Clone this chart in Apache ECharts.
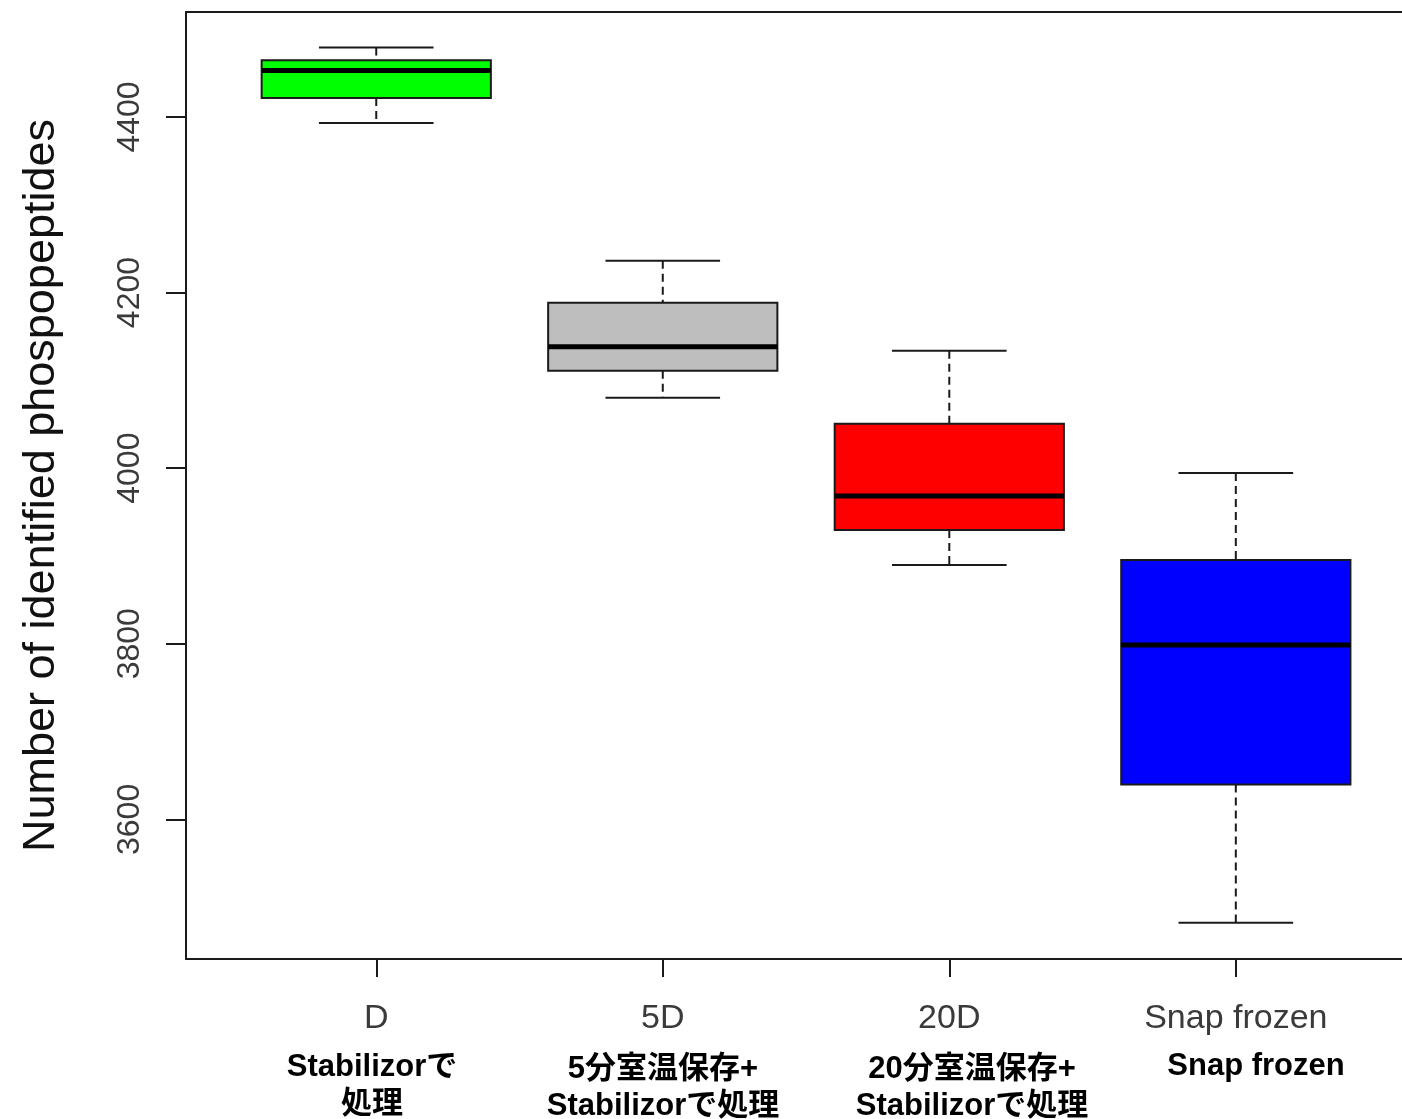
<!DOCTYPE html>
<html>
<head>
<meta charset="utf-8">
<script src="https://cdn.jsdelivr.net/npm/echarts@6/dist/echarts.min.js"></script>
<style>
html,body{margin:0;padding:0;background:#fff;}
#chart{width:1402px;height:1119px;}
</style>
</head>
<body>
<div id="chart"></div>
<script>
// ---- data ----
const categories = ['D', '5D', '20D', 'Snap frozen'];
const whiskerLow  = [4393.2, 4080.1, 3889.8, 3482.3];
const q1          = [4421.7, 4110.9, 3929.7, 3639.6];
const median      = [4452.8, 4138.2, 3968.4, 3798.5];
const q3          = [4464.5, 4188.4, 4050.5, 3895.4];
const whiskerHigh = [4479.0, 4236.2, 4133.7, 3994.6];
const boxColors   = ['#00FF00', '#BEBEBE', '#FF0000', '#0000FF'];
const yTicks      = [3600, 3800, 4000, 4200, 4400];
const yTitle      = 'Number of identified phospopeptides';
const groupNotes  = [
  'Stabilizorで\n処理',
  '5分室温保存+\nStabilizorで処理',
  '20分室温保存+\nStabilizorで処理',
  'Snap frozen'
];

// ---- axis ranges (plot region is cut off on the right in the original) ----
const xMin = 0.336, xMax = 4.58;
const yMin = 3441, yMax = 4519.5;
const boxHalf = 0.4, stapleHalf = 0.2;

const seriesData = categories.map((c, i) => [i + 1, whiskerLow[i], q1[i], median[i], q3[i], whiskerHigh[i], i]);

const lineColor = '#1a1a1a';

function renderItem(params, api) {
  const x = api.value(0);
  const lo = api.value(1), a = api.value(2), m = api.value(3), b = api.value(4), hi = api.value(5);
  const idx = api.value(6);
  const pLo = api.coord([x, lo]);
  const pA = api.coord([x, a]);
  const pB = api.coord([x, b]);
  const pHi = api.coord([x, hi]);
  const left = api.coord([x - boxHalf, m])[0];
  const right = api.coord([x + boxHalf, m])[0];
  const sL = api.coord([x - stapleHalf, m])[0];
  const sR = api.coord([x + stapleHalf, m])[0];
  const pM = api.coord([x, m]);
  const dash = { stroke: lineColor, lineWidth: 2, lineDash: [8, 5] };
  const solid = { stroke: lineColor, lineWidth: 2 };
  return {
    type: 'group',
    children: [
      { type: 'line', shape: { x1: pHi[0], y1: pHi[1], x2: pB[0], y2: pB[1] }, style: dash },
      { type: 'line', shape: { x1: pA[0], y1: pA[1], x2: pLo[0], y2: pLo[1] }, style: dash },
      { type: 'line', shape: { x1: sL, y1: pHi[1], x2: sR, y2: pHi[1] }, style: solid },
      { type: 'line', shape: { x1: sL, y1: pLo[1], x2: sR, y2: pLo[1] }, style: solid },
      { type: 'rect', shape: { x: left, y: pB[1], width: right - left, height: pA[1] - pB[1] },
        style: { fill: boxColors[idx], stroke: lineColor, lineWidth: 2 } },
      { type: 'line', shape: { x1: left, y1: pM[1], x2: right, y2: pM[1] }, style: { stroke: '#000', lineWidth: 5 } }
    ]
  };
}

const noteX = [372, 663, 972, 1256];
const noteY = [1086, 1088, 1088, 1066];
const latin = "'Liberation Sans', Arial, sans-serif";

const chart = echarts.init(document.getElementById('chart'), null, { renderer: 'canvas' });
chart.setOption({
  backgroundColor: '#ffffff',
  animation: false,
  grid: { left: 186, top: 12, right: 0, height: 947, show: false },
  xAxis: [{
    type: 'value', min: xMin, max: xMax, position: 'bottom',
    axisLine: { show: true, onZero: false, lineStyle: { color: lineColor, width: 2 } },
    axisTick: { show: true, inside: false, length: 18, customValues: [1, 2, 3, 4], lineStyle: { color: lineColor, width: 2 } },
    axisLabel: {
      show: true, customValues: [1, 2, 3, 4], margin: 43,
      formatter: v => categories[Math.round(v) - 1],
      fontFamily: latin, fontSize: 34, color: '#3a3a3a'
    },
    splitLine: { show: false }
  }, {
    type: 'value', min: xMin, max: xMax, position: 'top',
    axisLine: { show: true, onZero: false, lineStyle: { color: lineColor, width: 2 } },
    axisTick: { show: false }, axisLabel: { show: false }, splitLine: { show: false }
  }],
  yAxis: {
    type: 'value', min: yMin, max: yMax,
    name: yTitle, nameLocation: 'middle', nameRotate: 90, nameGap: 122,
    nameTextStyle: { fontFamily: latin, fontSize: 45, color: '#111' },
    axisLine: { show: true, lineStyle: { color: lineColor, width: 2 } },
    axisTick: { show: true, inside: false, length: 20, customValues: yTicks, lineStyle: { color: lineColor, width: 2 } },
    axisLabel: {
      show: true, customValues: yTicks, rotate: 90, margin: 40,
      formatter: v => String(Math.round(v)),
      fontFamily: latin, fontSize: 32, color: '#3a3a3a'
    },
    splitLine: { show: false }
  },
  series: [{
    type: 'custom',
    renderItem: renderItem,
    data: seriesData,
    encode: { x: 0, y: [1, 2, 3, 4, 5] },
    clip: false
  }],
  graphic: groupNotes.map((t, i) => ({
    type: 'text',
    x: noteX[i], y: noteY[i],
    style: {
      text: t, align: 'center', verticalAlign: 'middle',
      font: "bold 31px 'Liberation Sans', 'Noto Sans CJK JP', sans-serif",
      lineHeight: 37, fill: '#000'
    }
  }))
});
</script>
</body>
</html>
